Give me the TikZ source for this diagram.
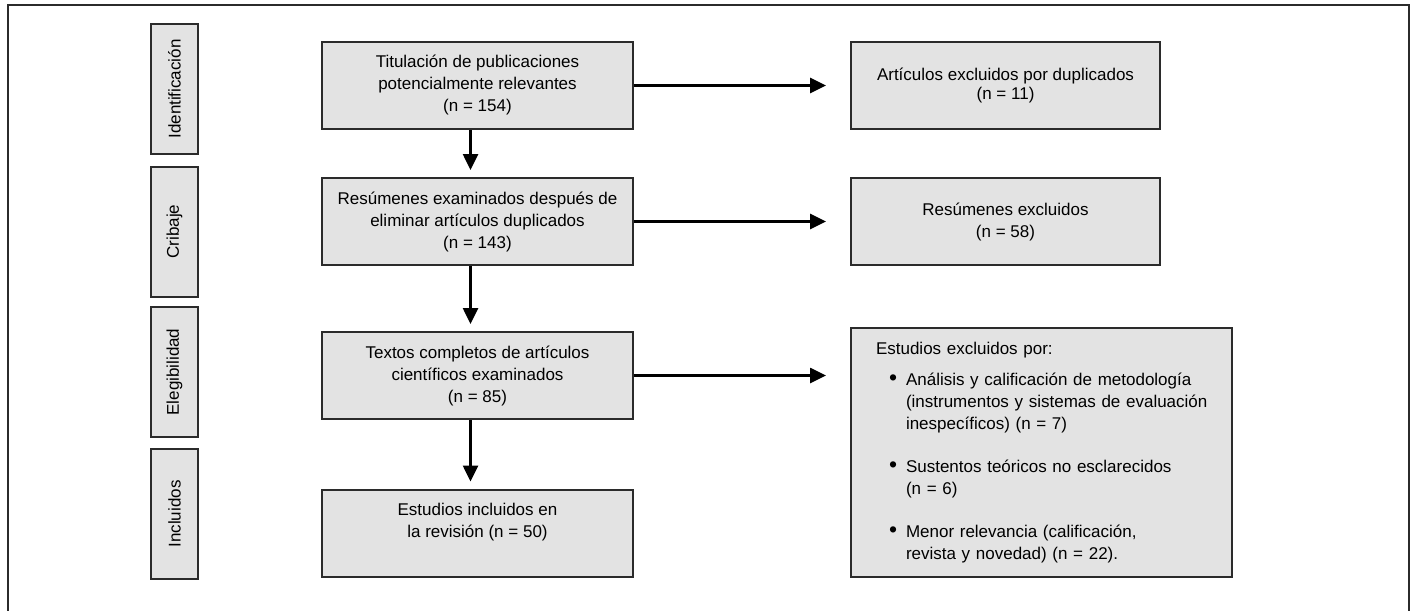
\documentclass[tikz,border=0pt]{standalone}
\usepackage{fontspec}
\setmainfont{Liberation Sans}
\usetikzlibrary{arrows.meta}
\definecolor{boxgray}{HTML}{E3E3E3}
\definecolor{edgegray}{HTML}{2B2B2B}
\newcommand{\exclitem}[1]{\makebox[30pt][l]{\hspace*{13pt}\raisebox{-0.5pt}{\scalebox{1.35}{\textbullet}}}\mbox{#1}}
\newcommand{\exclcont}[1]{\hspace*{30pt}\mbox{#1}}
\begin{document}
\begin{tikzpicture}[x=1pt,y=-1pt,
  every node/.style={font=\fontsize{17}{22}\selectfont},
  phase/.style={draw=edgegray,fill=boxgray,line width=2pt,rotate=90,
    minimum width=130pt,minimum height=47pt,inner sep=0pt},
  mainbox/.style={draw=edgegray,fill=boxgray,line width=2pt,
    minimum width=311pt,minimum height=87pt,align=center,inner sep=0pt},
  exclbox/.style={mainbox,minimum width=309pt},
  flow/.style={line width=2.6pt,-{Triangle[length=16pt,width=15pt]}}]
\useasboundingbox (0,0) rectangle (1412,610);
%%% outer frame, open at the bottom
\draw[edgegray,line width=2.5pt] (8,620) -- (8,5) -- (1409,5) -- (1409,620);
%
%%% phases on the left
\node[phase] (p1) at (174.5,89) {Identificación};
\node[phase] (p2) at (174.5,231.5) {Cribaje};
\node[phase] (p3) at (174.5,372) {Elegibilidad};
\node[phase] (p4) at (174.5,514) {Incluidos};
%
%%% main column
\node[mainbox] (t1) at (477.5,85.5) {Titulación de publicaciones\\potencialmente relevantes\\(n = 154)};
\node[mainbox] (t2) at (477.5,221.5) {Resúmenes examinados después de\\eliminar artículos duplicados\\(n = 143)};
\node[mainbox] (t3) at (477.5,375.5) {Textos completos de artículos\\científicos examinados\\(n = 85)};
\node[mainbox] (t4) at (477.5,533) {Estudios incluidos en\\la revisión (n = 50)\\[4pt]};
%
%%% exclusions
\node[exclbox] (e1) at (1005.5,85.5) {Artículos excluidos por duplicados\\[-3pt](n = 11)};
\node[exclbox] (e2) at (1005.5,221.5) {Resúmenes excluidos\\(n = 58)};
\node[draw=edgegray,fill=boxgray,line width=2pt,text width=331pt,inner xsep=25pt,
  minimum height=249pt,align=left] (e3) at (1041.5,452.5)
{Estudios excluidos por:\\[9pt]
\exclitem{Análisis y calificación de metodología}\\
\exclcont{(instrumentos y sistemas de evaluación}\\
\exclcont{inespecíficos) (n = 7)}\\[21pt]
\exclitem{Sustentos teóricos no esclarecidos}\\
\exclcont{(n = 6)}\\[21pt]
\exclitem{Menor relevancia (calificación,}\\
\exclcont{revista y novedad) (n = 22).}};
%
%%% arrows
\draw[flow,shorten >=7pt] ([xshift=-7pt]t1.south) -- ([xshift=-7pt]t2.north);
\draw[flow,shorten >=7pt] ([xshift=-7pt]t2.south) -- ([xshift=-7pt]t3.north);
\draw[flow,shorten >=7pt] ([xshift=-7pt]t3.south) -- ([xshift=-7pt]t4.north);
\draw[flow,shorten >=24pt] (t1.east) -- (e1.west);
\draw[flow,shorten >=24pt] (t2.east) -- (e2.west);
\draw[flow,shorten >=24pt] (t3.east) -- (t3.east -| e3.west);
\end{tikzpicture}
\end{document}
